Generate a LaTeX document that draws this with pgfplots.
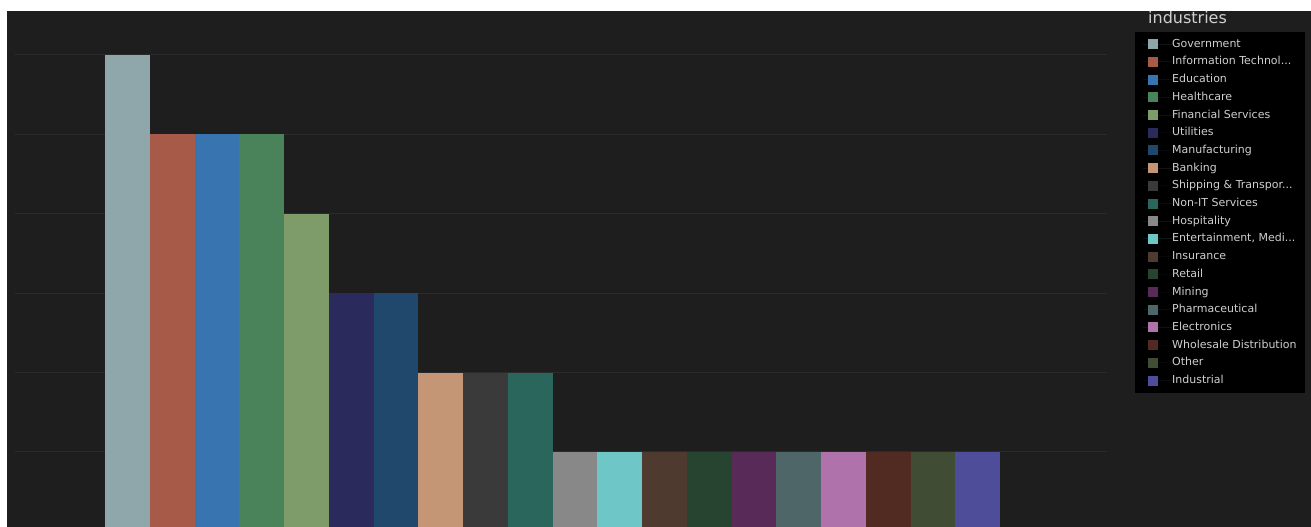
\documentclass[border=0pt]{standalone}
\usepackage{fontspec}
\setmainfont{DejaVu Sans}
\usepackage{pgfplots}
\pgfplotsset{compat=1.18}
\definecolor{bg}{HTML}{1E1E1E}
\definecolor{gridc}{HTML}{2B2B2B}
\definecolor{legtext}{HTML}{CFCFCF}
\definecolor{c1}{HTML}{8FA7AA}
\definecolor{c2}{HTML}{A85A48}
\definecolor{c3}{HTML}{3875B0}
\definecolor{c4}{HTML}{4A8259}
\definecolor{c5}{HTML}{7E9B6A}
\definecolor{c6}{HTML}{2A2A5C}
\definecolor{c7}{HTML}{20486D}
\definecolor{c8}{HTML}{C49676}
\definecolor{c9}{HTML}{3A3A3A}
\definecolor{c10}{HTML}{2A665C}
\definecolor{c11}{HTML}{888888}
\definecolor{c12}{HTML}{6EC6C6}
\definecolor{c13}{HTML}{4E3A2E}
\definecolor{c14}{HTML}{264430}
\definecolor{c15}{HTML}{572A57}
\definecolor{c16}{HTML}{4F6668}
\definecolor{c17}{HTML}{B072AA}
\definecolor{c18}{HTML}{512A22}
\definecolor{c19}{HTML}{404D34}
\definecolor{c20}{HTML}{4D4D9A}
\begin{document}
\begin{tikzpicture}[x=1pt,y=1pt]
\fill[white] (0,0) rectangle (1311,527);
\fill[bg] (7,0) rectangle (1311,516);
\begin{axis}[
  at={(7pt,0pt)}, anchor=south west,
  scale only axis, width=1304pt, height=516pt,
  xmin=-2.69, xmax=26.45, ymin=0.055, ymax=6.554,
  hide axis,
  ybar, bar width=1, bar shift=0pt,
  every axis plot/.append style={draw=none, bar shift=0pt, bar width=1},
  legend image code/.code={\path (-5pt,0pt) -- (24pt,0pt); \fill[#1] (0pt,-5pt) rectangle (10pt,5pt);},
  legend cell align=left,
  legend style={at={(0.865,0.9593)}, anchor=north west, fill=black, draw=none,
    inner xsep=8pt, inner ysep=7pt, row sep=7.7pt, column sep=0pt,
    font=\fontsize{11}{13}\selectfont, text=legtext,
    nodes={inner xsep=0pt, inner ysep=0pt, text height=8pt, text depth=2pt}},
]
\draw[gridc, line width=1pt] (axis cs:-2.51,1) -- (axis cs:21.89,1);
\draw[gridc, line width=1pt] (axis cs:-2.51,2) -- (axis cs:21.89,2);
\draw[gridc, line width=1pt] (axis cs:-2.51,3) -- (axis cs:21.89,3);
\draw[gridc, line width=1pt] (axis cs:-2.51,4) -- (axis cs:21.89,4);
\draw[gridc, line width=1pt] (axis cs:-2.51,5) -- (axis cs:21.89,5);
\draw[gridc, line width=1pt] (axis cs:-2.51,6) -- (axis cs:21.89,6);
\addplot[fill=c1] coordinates {(0,6)}; \addlegendentry{Government}
\addplot[fill=c2] coordinates {(1,5)}; \addlegendentry{Information Technol...}
\addplot[fill=c3] coordinates {(2,5)}; \addlegendentry{Education}
\addplot[fill=c4] coordinates {(3,5)}; \addlegendentry{Healthcare}
\addplot[fill=c5] coordinates {(4,4)}; \addlegendentry{Financial Services}
\addplot[fill=c6] coordinates {(5,3)}; \addlegendentry{Utilities}
\addplot[fill=c7] coordinates {(6,3)}; \addlegendentry{Manufacturing}
\addplot[fill=c8] coordinates {(7,2)}; \addlegendentry{Banking}
\addplot[fill=c9] coordinates {(8,2)}; \addlegendentry{Shipping \& Transpor...}
\addplot[fill=c10] coordinates {(9,2)}; \addlegendentry{Non-IT Services}
\addplot[fill=c11] coordinates {(10,1)}; \addlegendentry{Hospitality}
\addplot[fill=c12] coordinates {(11,1)}; \addlegendentry{Entertainment, Medi...}
\addplot[fill=c13] coordinates {(12,1)}; \addlegendentry{Insurance}
\addplot[fill=c14] coordinates {(13,1)}; \addlegendentry{Retail}
\addplot[fill=c15] coordinates {(14,1)}; \addlegendentry{Mining}
\addplot[fill=c16] coordinates {(15,1)}; \addlegendentry{Pharmaceutical}
\addplot[fill=c17] coordinates {(16,1)}; \addlegendentry{Electronics}
\addplot[fill=c18] coordinates {(17,1)}; \addlegendentry{Wholesale Distribution}
\addplot[fill=c19] coordinates {(18,1)}; \addlegendentry{Other}
\addplot[fill=c20] coordinates {(19,1)}; \addlegendentry{Industrial}
\end{axis}
\node[anchor=west, text=legtext, font=\fontsize{16}{18}\selectfont, inner sep=0pt] at (1148,509) {industries};
\end{tikzpicture}
\end{document}
